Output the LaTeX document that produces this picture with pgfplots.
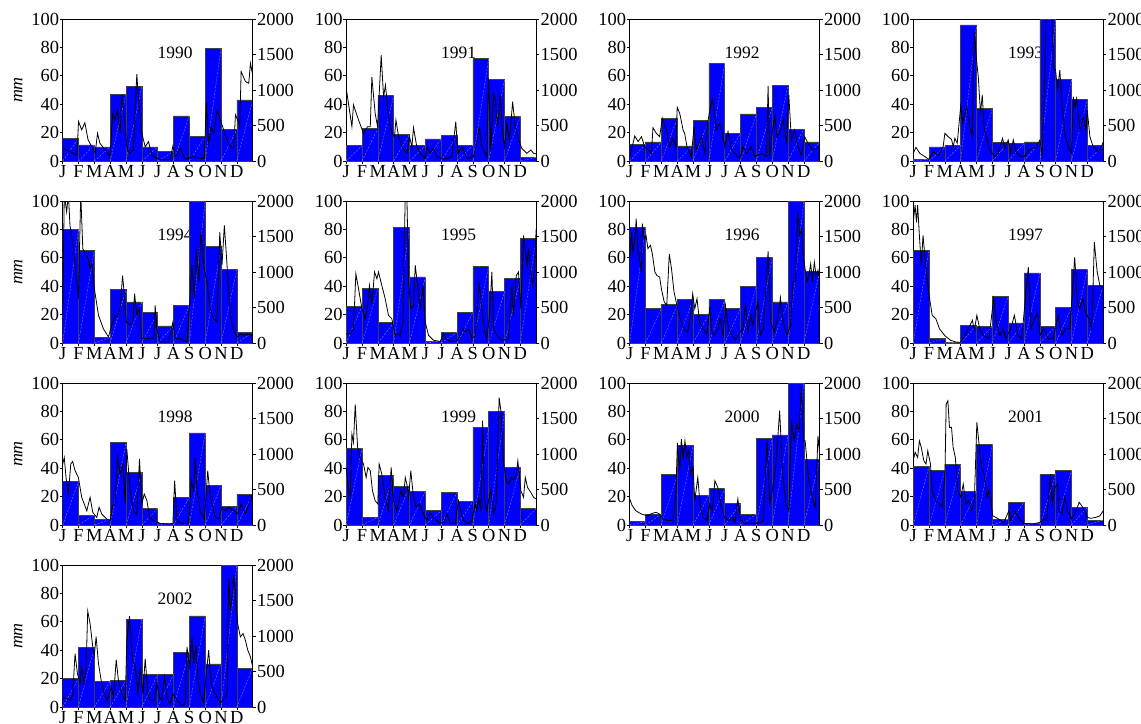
\documentclass[border=0pt]{standalone}
\usepackage{fontspec}
\setmainfont{Liberation Serif}
\usepackage{pgfplots}
\pgfplotsset{compat=1.18}
\definecolor{barblue}{RGB}{0,0,255}
\pgfplotsset{
 panelbase/.style={scale only axis, width=190bp, height=142bp, xmin=0, xmax=12, ymin=0, anchor=south west,
   tick align=outside, major tick length=3bp, axis line style={line width=0.8bp},
   every tick/.style={black, line width=0.7bp},
   /pgf/number format/assume math mode=true, /pgf/number format/1000 sep={},
   tick label style={font=\fontsize{18.5}{19}\selectfont}},
 leftax/.style={panelbase, ymax=100, ytick={0,20,...,100}, xtick={0,...,11},
   xticklabels={J,F,M,A,M,J,J,A,S,O,N,D}, xtick pos=bottom, ytick pos=left,
   yticklabel style={inner sep=0.5bp}, xticklabel style={inner sep=1bp}},
 rightax/.style={panelbase, ymax=2000, ytick={0,500,...,2000}, axis x line=none,
   axis y line*=right, yticklabel style={inner sep=1.2bp}},
 mmlabel/.style={ylabel={\textit{mm}}, ylabel style={at={(axis description cs:-0.235,0.5)},
   anchor=center, font=\fontsize{18}{19}\selectfont}},
}
\newcommand{\panel}[6]{%
 \begin{axis}[leftax, at={(#1bp,-#2bp)}, #6]
 \node[font=\fontsize{17.5}{18}\selectfont] at (axis cs:7.1,76.5) {#3};
 \addplot[ybar interval, fill=barblue, draw=black!75, line width=0.6bp]
   table[x=x, y=h, row sep=\\] {x h\\#4};
 \addplot[quiver={u=1, v=\thisrow{h}}, restrict x to domain=0:11, white, opacity=0.55,
   line width=0.35bp, dash pattern=on 2bp off 1.5bp]
   table[x=x, y expr=0, row sep=\\] {x h\\#4};
 \end{axis}
 \begin{axis}[rightax, at={(#1bp,-#2bp)}]
 \addplot[black, line width=0.8bp, mark=none] coordinates {#5};
 \end{axis}}
\begin{document}
\begin{tikzpicture}
\path[use as bounding box] (0bp,0bp) rectangle (1141bp,-724bp);
% 1990
\panel{62.7}{161}{1990}
{0 16\\1 11.3\\2 9.9\\3 47\\4 52.3\\5 9.9\\6 6.6\\7 31.7\\8 17.6\\9 79.3\\10 22.3\\11 43\\12 0\\}
{(0.04,180)(0.9,85)(1.0,555)(1.2,440)(1.4,540)(1.6,300)(2.05,110)(2.2,390)(2.35,250)(2.78,131)(2.99,61)(3.16,670)(3.31,577)(3.46,717)(3.63,390)(3.73,930)(3.88,670)(4.05,200)(4.22,108)(4.47,155)(4.68,1225)(4.79,860)(5.0,390)(5.21,200)(5.42,272)(5.63,85)(5.95,38)(6.37,14)(6.79,23)(6.96,211)(7.11,61)(7.43,178)(7.74,23)(8.27,61)(8.8,33)(8.95,52)(9.07,820)(9.22,250)(9.37,483)(9.54,390)(9.75,717)(9.96,577)(10.17,437)(10.38,296)(10.59,202)(10.8,178)(10.91,650)(11.05,577)(11.18,483)(11.27,1260)(11.54,1120)(11.75,1095)(11.86,1375)(12.0,1210)}
{mmlabel}
% 1991
\panel{346.2}{161}{1991}
{0 10.8\\1 23\\2 46.2\\3 18.8\\4 11\\5 15.5\\6 18\\7 11\\8 72.3\\9 57.5\\10 31.5\\11 2.6\\12 0\\}
{(0,1025)(0.36,483)(0.46,790)(0.78,577)(1.09,390)(1.35,483)(1.52,483)(1.62,1180)(1.83,670)(1.98,483)(2.21,1490)(2.36,905)(2.48,1070)(2.67,625)(2.88,390)(3.05,342)(3.14,577)(3.31,342)(3.52,200)(3.83,108)(4.0,342)(4.15,200)(4.25,470)(4.46,200)(4.67,108)(4.98,38)(5.09,200)(5.3,108)(5.51,178)(5.73,61)(6.15,23)(6.67,61)(6.92,555)(7.05,108)(7.31,200)(7.62,38)(8.04,61)(8.25,250)(8.4,483)(8.57,200)(8.88,61)(8.99,1165)(9.14,155)(9.3,950)(9.41,860)(9.56,483)(9.73,950)(9.88,390)(10.0,200)(10.15,530)(10.32,296)(10.51,835)(10.68,483)(10.89,296)(11.09,178)(11.41,108)(11.66,155)(11.83,108)(12,100)}
{}
% 1992
\panel{629.7}{161}{1992}
{0 11.7\\1 13.4\\2 30\\3 10.6\\4 28.6\\5 68.8\\6 19.5\\7 33.1\\8 37.6\\9 53.5\\10 22.5\\11 13.4\\12 0\\}
{(0,61)(0.32,352)(0.53,272)(0.74,342)(0.95,200)(1.16,155)(1.37,108)(1.47,470)(1.68,390)(1.89,342)(2.06,600)(2.32,437)(2.53,200)(2.74,320)(2.91,200)(3.0,755)(3.16,670)(3.37,437)(3.47,390)(3.62,200)(3.89,61)(4.06,483)(4.21,155)(4.53,342)(4.74,108)(4.88,483)(5.01,650)(5.22,880)(5.37,670)(5.47,437)(5.68,530)(5.85,390)(6.0,200)(6.21,413)(6.42,178)(6.63,108)(6.95,38)(7.16,200)(7.37,108)(7.68,200)(7.89,61)(8.32,108)(8.63,61)(8.74,1055)(8.84,61)(8.99,390)(9.16,625)(9.31,342)(9.53,437)(9.7,577)(9.91,250)(10.05,930)(10.21,296)(10.42,437)(10.63,200)(10.84,85)(11.05,342)(11.26,250)(11.58,155)(12,200)}
{}
% 1993
\panel{913.2}{161}{1993}
{0 1.2\\1 9.9\\2 11\\3 95.8\\4 37.1\\5 12.9\\6 12.4\\7 13.4\\8 100\\9 57.5\\10 43.4\\11 10.8\\12 0\\}
{(0,108)(0.17,192)(0.42,108)(0.74,61)(0.99,23)(1.26,131)(1.58,85)(1.89,200)(2.0,390)(2.21,342)(2.42,305)(2.53,200)(2.63,320)(2.78,250)(3.0,775)(3.12,530)(3.37,765)(3.58,483)(3.73,342)(3.85,1820)(4.0,1420)(4.11,1185)(4.25,670)(4.36,930)(4.48,483)(4.74,200)(4.99,108)(5.16,61)(5.37,108)(5.64,320)(5.79,178)(6.0,296)(6.15,108)(6.32,296)(6.53,108)(6.84,61)(7.0,61)(7.31,155)(7.79,200)(8.0,296)(8.15,108)(8.27,860)(8.42,2300)(8.74,2300)(8.84,1330)(8.99,1280)(9.12,1000)(9.26,1280)(9.41,765)(9.58,390)(9.79,200)(10.0,108)(10.11,905)(10.21,765)(10.32,880)(10.53,437)(10.74,625)(10.91,437)(10.99,717)(11.16,342)(11.37,200)(11.68,131)(11.89,200)(12,272)}
{}
% 1994
\panel{62.7}{343}{1994}
{0 80\\1 65.3\\2 4\\3 37.8\\4 28.9\\5 21.4\\6 12\\7 26.5\\8 100\\9 68\\10 51.6\\11 7.3\\12 0\\}
{(0,390)(0.1,2100)(0.25,1845)(0.36,2100)(0.46,1655)(0.68,1330)(0.89,860)(0.99,625)(1.14,2100)(1.27,1330)(1.48,1235)(1.62,1185)(1.73,1045)(1.84,1115)(2.0,765)(2.26,390)(2.57,200)(2.89,85)(3.09,250)(3.31,390)(3.46,366)(3.63,483)(3.78,950)(3.88,717)(4.01,296)(4.26,250)(4.43,296)(4.54,695)(4.68,390)(4.83,483)(5.0,61)(5.32,61)(5.63,61)(5.78,108)(5.84,530)(5.95,200)(6.16,14)(6.69,14)(6.96,296)(7.11,61)(7.43,61)(7.85,14)(8.0,483)(8.16,1095)(8.31,625)(8.44,1330)(8.59,860)(8.73,1560)(8.9,1095)(9.11,860)(9.32,483)(9.54,342)(9.75,296)(9.92,1560)(10.06,1095)(10.21,1655)(10.38,1095)(10.59,390)(10.8,155)(11.05,85)(11.22,131)(11.43,108)(11.64,131)(12,108)}
{mmlabel}
% 1995
\panel{346.2}{343}{1995}
{0 26\\1 38.3\\2 14.3\\3 81.5\\4 46.5\\5 1.4\\6 7.5\\7 21.4\\8 54\\9 36.2\\10 45.5\\11 73.9\\12 0\\}
{(0,131)(0.25,131)(0.46,200)(0.61,975)(0.78,765)(0.99,483)(1.2,342)(1.35,530)(1.47,810)(1.62,530)(1.79,1000)(1.94,905)(2.04,1000)(2.25,810)(2.46,625)(2.67,390)(2.88,342)(3.09,108)(3.31,131)(3.41,85)(3.58,296)(3.73,2100)(3.83,2100)(3.94,860)(4.08,483)(4.25,530)(4.36,1095)(4.51,810)(4.67,483)(4.84,810)(4.99,296)(5.2,108)(5.52,38)(5.94,23)(6.15,131)(6.32,61)(6.57,23)(6.99,23)(7.2,108)(7.37,200)(7.52,155)(7.73,200)(7.94,61)(8.15,108)(8.4,860)(8.57,483)(8.72,200)(8.88,61)(9.05,390)(9.2,1000)(9.31,200)(9.52,108)(9.83,38)(10.25,61)(10.46,810)(10.57,390)(10.74,950)(10.88,1000)(11.03,483)(11.2,1515)(11.41,1095)(11.52,1330)(11.66,950)(11.79,810)(11.89,1095)(12,1610)}
{}
% 1996
\panel{629.7}{343}{1996}
{0 81.5\\1 24.2\\2 27\\3 30.8\\4 20.2\\5 30.5\\6 24.4\\7 40.1\\8 60.3\\9 28.9\\10 100\\11 50.5\\12 0\\}
{(0,1185)(0.11,1560)(0.21,1280)(0.34,1490)(0.41,1750)(0.51,1330)(0.69,1095)(0.74,1000)(0.8,1680)(0.92,1470)(1.03,1515)(1.15,1330)(1.31,1375)(1.43,1255)(1.59,1000)(1.72,950)(1.89,930)(2.0,765)(2.18,577)(2.34,530)(2.5,1255)(2.64,1045)(2.8,717)(3.03,483)(3.26,296)(3.49,178)(3.66,155)(3.82,342)(3.98,695)(4.11,483)(4.25,625)(4.41,296)(4.64,200)(4.87,131)(5.06,507)(5.17,178)(5.33,108)(5.56,200)(5.72,342)(5.91,108)(6.05,530)(6.24,200)(6.47,108)(6.69,38)(6.97,155)(7.15,200)(7.31,530)(7.47,155)(7.66,390)(7.77,250)(8.09,577)(8.25,108)(8.44,200)(8.74,1290)(8.9,296)(9.13,155)(9.4,390)(9.52,640)(9.7,296)(9.93,108)(10.16,250)(10.32,860)(10.46,860)(10.62,1845)(10.74,1515)(10.85,1610)(10.97,1185)(11.08,1045)(11.2,860)(11.31,950)(11.43,1115)(11.54,860)(11.66,1140)(11.77,950)(11.89,1025)(12,905)}
{}
% 1997
\panel{913.2}{343}{1997}
{0 65.3\\1 3\\2 0.5\\3 12.4\\4 11.7\\5 33.1\\6 14.1\\7 49.3\\8 11.7\\9 25.1\\10 52.1\\11 40.6\\12 0\\}
{(0,1700)(0.12,1940)(0.21,1700)(0.28,1940)(0.39,1515)(0.51,1095)(0.62,1515)(0.81,1045)(0.97,717)(1.2,390)(1.43,342)(1.66,200)(2.01,100)(2.36,38)(2.7,14)(3,10)(3.39,155)(3.74,320)(3.86,178)(4.02,390)(4.2,200)(4.43,108)(4.78,61)(5.08,625)(5.24,296)(5.47,108)(5.7,200)(5.84,61)(6.16,200)(6.39,390)(6.62,108)(6.85,61)(7.27,1070)(7.44,200)(7.67,342)(7.85,413)(8.01,108)(8.25,200)(8.52,61)(8.82,61)(9.16,390)(9.39,108)(9.62,200)(9.9,200)(10.2,1210)(10.37,577)(10.51,483)(10.71,625)(10.86,437)(11.1,342)(11.28,200)(11.44,1420)(11.62,1000)(11.79,810)(12,765)}
{}
% 1998
\panel{62.7}{525}{1998}
{0 30.5\\1 7\\2 4\\3 58.2\\4 37.1\\5 11.7\\6 1.2\\7 19.5\\8 64.8\\9 27.7\\10 13.1\\11 21.6\\12 0\\}
{(0,860)(0.1,950)(0.21,670)(0.36,437)(0.51,860)(0.63,895)(0.78,765)(0.99,670)(1.2,390)(1.52,200)(1.73,390)(1.9,178)(2.15,108)(2.3,250)(2.47,155)(2.78,85)(3.0,61)(3.16,272)(3.31,296)(3.46,950)(3.63,717)(3.8,860)(3.95,296)(4.05,1070)(4.26,483)(4.47,200)(4.68,155)(4.85,930)(5.0,296)(5.15,437)(5.32,342)(5.49,108)(5.74,61)(6.16,23)(6.69,14)(6.96,23)(7.07,625)(7.22,61)(7.53,23)(7.95,23)(8.12,625)(8.27,483)(8.38,950)(8.48,483)(8.69,200)(8.95,85)(9.16,765)(9.28,483)(9.43,296)(9.64,108)(9.85,85)(10.06,250)(10.27,200)(10.49,250)(10.8,200)(11.05,155)(11.27,296)(11.54,155)(11.75,296)(12,437)}
{mmlabel}
% 1999
\panel{346.2}{525}{1999}
{0 54.2\\1 5.4\\2 35\\3 27.2\\4 23.7\\5 10.1\\6 23\\7 16.4\\8 68.8\\9 79.8\\10 40.6\\11 11.7\\12 0\\}
{(0,810)(0.15,483)(0.25,390)(0.36,1280)(0.46,1165)(0.57,1700)(0.72,1095)(0.88,950)(1.09,860)(1.26,670)(1.37,810)(1.52,765)(1.66,483)(1.83,342)(2.0,296)(2.08,860)(2.25,717)(2.46,390)(2.67,200)(2.84,810)(2.99,342)(3.2,200)(3.45,483)(3.62,390)(3.73,670)(3.83,577)(3.94,390)(4.08,765)(4.25,390)(4.42,250)(4.63,296)(4.88,155)(5.09,61)(5.26,178)(5.52,108)(5.83,38)(6.15,23)(6.36,155)(6.57,23)(6.88,23)(7.09,342)(7.24,200)(7.41,61)(7.73,23)(7.94,61)(8.15,296)(8.25,200)(8.36,390)(8.51,200)(8.61,1470)(8.72,390)(8.88,200)(8.99,342)(9.14,483)(9.31,155)(9.47,296)(9.66,1795)(9.77,1610)(9.94,860)(10.11,625)(10.25,577)(10.42,670)(10.57,625)(10.74,717)(10.84,905)(11.03,483)(11.2,390)(11.31,670)(11.45,530)(11.66,460)(11.83,390)(12,366)}
{}
% 2000
\panel{629.7}{525}{2000}
{0 2.3\\1 7.7\\2 35.4\\3 55.9\\4 21.1\\5 25.8\\6 15\\7 7.7\\8 61\\9 63.4\\10 100\\11 46.2\\12 0\\}
{(0,366)(0.16,272)(0.39,200)(0.74,155)(1.08,131)(1.43,164)(1.66,178)(1.89,155)(2.11,85)(2.46,61)(2.76,70)(2.92,483)(3.01,1155)(3.15,765)(3.26,1210)(3.38,950)(3.49,1185)(3.61,950)(3.72,1045)(3.84,717)(4.0,810)(4.11,342)(4.3,670)(4.46,250)(4.64,108)(4.87,61)(5.06,296)(5.22,200)(5.38,625)(5.56,530)(5.75,296)(5.98,108)(6.25,61)(6.48,108)(6.64,38)(6.83,366)(7.01,61)(7.29,23)(7.75,23)(8.09,23)(8.44,61)(8.67,1185)(8.85,296)(9.01,483)(9.24,860)(9.47,1610)(9.66,717)(9.86,296)(10.05,200)(10.21,1470)(10.39,1185)(10.55,1420)(10.69,1330)(10.85,1940)(10.97,1185)(11.08,1185)(11.31,625)(11.54,390)(11.72,250)(11.89,1255)(12,1000)}
{}
% 2001
\panel{913.2}{525}{2001}
{0 41.3\\1 38.3\\2 42.5\\3 23.7\\4 56.8\\5 4.2\\6 16.2\\7 1.4\\8 35.7\\9 38.3\\10 12.4\\11 3.5\\12 0\\}
{(0,905)(0.12,1025)(0.28,950)(0.39,1185)(0.51,1095)(0.67,905)(0.81,860)(0.92,1045)(1.09,860)(1.2,483)(1.43,342)(1.66,296)(1.85,250)(2.01,765)(2.08,1700)(2.19,1750)(2.29,1375)(2.42,1375)(2.52,1095)(2.66,950)(2.82,483)(3.0,390)(3.16,577)(3.33,296)(3.51,342)(3.7,200)(3.86,342)(4.02,1445)(4.2,1045)(4.32,810)(4.48,717)(4.67,390)(4.78,483)(4.9,342)(5.02,131)(5.39,85)(5.73,38)(6.04,200)(6.16,61)(6.44,200)(6.63,108)(6.97,23)(7.55,14)(8.01,38)(8.24,85)(8.43,61)(8.66,717)(8.78,296)(8.94,530)(9.12,577)(9.21,200)(9.4,155)(9.56,390)(9.75,200)(10.02,85)(10.29,200)(10.48,320)(10.71,250)(11.0,108)(11.2,94)(11.55,108)(11.8,131)(12,200)}
{}
% 2002
\panel{62.7}{707}{2002}
{0 20\\1 41.9\\2 18.1\\3 18.8\\4 61.9\\5 22.8\\6 22.8\\7 38.6\\8 64.2\\9 30.4\\10 100\\11 27.3\\12 0\\}
{(0,141)(0.25,118)(0.46,94)(0.63,165)(0.78,752)(0.93,470)(1.1,329)(1.2,564)(1.35,329)(1.48,564)(1.58,1350)(1.73,1175)(1.9,846)(2.0,730)(2.11,990)(2.26,611)(2.43,376)(2.62,188)(2.83,94)(3.06,282)(3.21,141)(3.38,667)(3.52,376)(3.73,188)(3.95,94)(4.05,940)(4.22,1278)(4.32,893)(4.43,658)(4.58,564)(4.75,188)(4.89,564)(5.06,188)(5.21,681)(5.38,188)(5.53,94)(5.78,94)(5.95,329)(6.1,141)(6.27,94)(6.43,423)(6.58,141)(6.79,47)(6.96,188)(7.22,94)(7.53,24)(7.74,47)(7.85,846)(8.02,564)(8.16,987)(8.27,611)(8.42,870)(8.54,376)(8.69,188)(8.9,70)(9.07,470)(9.22,800)(9.37,329)(9.54,235)(9.75,141)(9.96,56)(10.27,141)(10.38,188)(10.49,1810)(10.59,1363)(10.7,1551)(10.8,1857)(10.91,1551)(11.05,1175)(11.22,987)(11.39,1034)(11.54,940)(11.69,800)(11.86,705)(12,564)}
{mmlabel}
\end{tikzpicture}
\end{document}
